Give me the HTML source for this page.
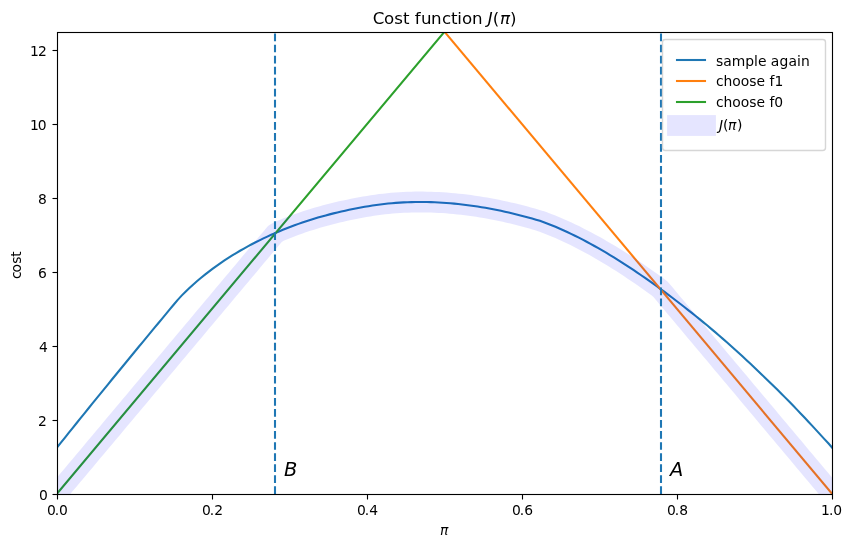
<!DOCTYPE html>
<html lang="en"><head><meta charset="utf-8"><title>Cost function J(π)</title>
<style>html,body{margin:0;padding:0;background:#fff;overflow:hidden}svg{display:block}text{font-family:'DejaVu Sans','Liberation Sans',sans-serif;fill:#000;font-kerning:none;white-space:pre}.t10{font-size:13.889px}.t12{font-size:16.667px}.t14{font-size:19.444px}.it{font-style:italic}</style></head><body>
<svg width="853" height="547" viewBox="0 0 853 547">
<rect x="0" y="0" width="853" height="547" fill="#fff"/>
<defs><clipPath id="ax"><rect x="57" y="32" width="776" height="463"/></clipPath></defs>
<g clip-path="url(#ax)" fill="none" stroke-linejoin="round">
<path d="M57.00 447.52 L60.89 442.65 L64.79 437.79 L68.68 432.93 L72.58 428.09 L76.47 423.25 L80.37 418.42 L84.26 413.60 L88.16 408.78 L92.05 403.97 L95.94 399.17 L99.84 394.38 L103.73 389.59 L107.63 384.81 L111.52 380.03 L115.42 375.26 L119.31 370.50 L123.21 365.74 L127.10 360.99 L130.99 356.24 L134.89 351.50 L138.78 346.76 L142.68 342.04 L146.57 337.33 L150.47 332.64 L154.36 327.94 L158.26 323.26 L162.15 318.57 L166.05 313.89 L169.94 309.20 L173.83 304.51 L177.73 299.84 L181.62 295.63 L185.52 291.73 L189.41 288.03 L193.31 284.47 L197.20 281.08 L201.10 277.82 L204.99 274.68 L208.88 271.64 L212.78 268.70 L216.67 265.86 L220.57 263.13 L224.46 260.48 L228.36 257.92 L232.25 255.46 L236.15 253.07 L240.04 250.77 L243.93 248.54 L247.83 246.38 L251.72 244.29 L255.62 242.27 L259.51 240.31 L263.41 238.41 L267.30 236.57 L271.20 234.80 L275.09 233.09 L278.98 231.43 L282.88 229.82 L286.77 228.26 L290.67 226.75 L294.56 225.30 L298.46 223.89 L302.35 222.53 L306.25 221.23 L310.14 219.97 L314.04 218.76 L317.93 217.60 L321.82 216.48 L325.72 215.40 L329.61 214.37 L333.51 213.37 L337.40 212.42 L341.30 211.52 L345.19 210.66 L349.09 209.84 L352.98 209.05 L356.87 208.28 L360.77 207.55 L364.66 206.84 L368.56 206.17 L372.45 205.54 L376.35 204.96 L380.24 204.44 L384.14 203.99 L388.03 203.58 L391.92 203.22 L395.82 202.90 L399.71 202.63 L403.61 202.41 L407.50 202.23 L411.40 202.10 L415.29 202.02 L419.19 201.99 L423.08 202.00 L426.97 202.06 L430.87 202.16 L434.76 202.31 L438.66 202.49 L442.55 202.72 L446.45 202.98 L450.34 203.29 L454.24 203.63 L458.13 204.02 L462.03 204.45 L465.92 204.91 L469.81 205.41 L473.71 205.96 L477.60 206.55 L481.50 207.17 L485.39 207.83 L489.29 208.53 L493.18 209.26 L497.08 210.03 L500.97 210.84 L504.86 211.68 L508.76 212.56 L512.65 213.48 L516.55 214.43 L520.44 215.41 L524.34 216.42 L528.23 217.47 L532.13 218.55 L536.02 219.66 L539.91 220.85 L543.81 222.20 L547.70 223.65 L551.60 225.19 L555.49 226.80 L559.39 228.47 L563.28 230.20 L567.18 231.99 L571.07 233.83 L574.96 235.73 L578.86 237.69 L582.75 239.69 L586.65 241.73 L590.54 243.83 L594.44 245.97 L598.33 248.16 L602.23 250.41 L606.12 252.69 L610.02 255.03 L613.91 257.41 L617.80 259.84 L621.70 262.31 L625.59 264.82 L629.49 267.37 L633.38 269.96 L637.28 272.60 L641.17 275.26 L645.07 277.96 L648.96 280.70 L652.85 283.46 L656.75 286.27 L660.64 289.10 L664.54 291.96 L668.43 294.85 L672.33 297.78 L676.22 300.74 L680.12 303.73 L684.01 306.76 L687.90 309.82 L691.80 312.91 L695.69 316.03 L699.59 319.18 L703.48 322.36 L707.38 325.57 L711.27 328.83 L715.17 332.13 L719.06 335.47 L722.95 338.84 L726.85 342.26 L730.74 345.73 L734.64 349.24 L738.53 352.77 L742.43 356.34 L746.32 359.94 L750.22 363.57 L754.11 367.23 L758.01 370.92 L761.90 374.64 L765.79 378.39 L769.69 382.17 L773.58 385.98 L777.48 389.83 L781.37 393.70 L785.27 397.62 L789.16 401.59 L793.06 405.59 L796.95 409.63 L800.84 413.70 L804.74 417.81 L808.63 421.96 L812.53 426.16 L816.42 430.39 L820.32 434.67 L824.21 438.84 L828.11 443.02 L832.00 447.52" stroke="#1f77b4" stroke-width="2.083" stroke-linecap="square"/>
<path d="M57.00 -430.28 L832.00 493.72" stroke="#ff7f0e" stroke-width="2.083" stroke-linecap="square"/>
<path d="M57.00 493.72 L832.00 -430.28" stroke="#2ca02c" stroke-width="2.083" stroke-linecap="square"/>
<path d="M57.00 493.72 L60.89 489.08 L64.79 484.43 L68.68 479.79 L72.58 475.15 L76.47 470.50 L80.37 465.86 L84.26 461.22 L88.16 456.57 L92.05 451.93 L95.94 447.29 L99.84 442.64 L103.73 438.00 L107.63 433.36 L111.52 428.71 L115.42 424.07 L119.31 419.43 L123.21 414.79 L127.10 410.14 L130.99 405.50 L134.89 400.86 L138.78 396.21 L142.68 391.57 L146.57 386.93 L150.47 382.28 L154.36 377.64 L158.26 373.00 L162.15 368.35 L166.05 363.71 L169.94 359.07 L173.83 354.42 L177.73 349.78 L181.62 345.14 L185.52 340.49 L189.41 335.85 L193.31 331.21 L197.20 326.56 L201.10 321.92 L204.99 317.28 L208.88 312.63 L212.78 307.99 L216.67 303.35 L220.57 298.70 L224.46 294.06 L228.36 289.42 L232.25 284.78 L236.15 280.13 L240.04 275.49 L243.93 270.85 L247.83 266.20 L251.72 261.56 L255.62 256.92 L259.51 252.27 L263.41 247.63 L267.30 242.99 L271.20 238.34 L275.09 233.70 L278.98 231.43 L282.88 229.82 L286.77 228.26 L290.67 226.75 L294.56 225.30 L298.46 223.89 L302.35 222.53 L306.25 221.23 L310.14 219.97 L314.04 218.76 L317.93 217.60 L321.82 216.48 L325.72 215.40 L329.61 214.37 L333.51 213.37 L337.40 212.42 L341.30 211.52 L345.19 210.66 L349.09 209.84 L352.98 209.05 L356.87 208.28 L360.77 207.55 L364.66 206.84 L368.56 206.17 L372.45 205.54 L376.35 204.96 L380.24 204.44 L384.14 203.99 L388.03 203.58 L391.92 203.22 L395.82 202.90 L399.71 202.63 L403.61 202.41 L407.50 202.23 L411.40 202.10 L415.29 202.02 L419.19 201.99 L423.08 202.00 L426.97 202.06 L430.87 202.16 L434.76 202.31 L438.66 202.49 L442.55 202.72 L446.45 202.98 L450.34 203.29 L454.24 203.63 L458.13 204.02 L462.03 204.45 L465.92 204.91 L469.81 205.41 L473.71 205.96 L477.60 206.55 L481.50 207.17 L485.39 207.83 L489.29 208.53 L493.18 209.26 L497.08 210.03 L500.97 210.84 L504.86 211.68 L508.76 212.56 L512.65 213.48 L516.55 214.43 L520.44 215.41 L524.34 216.42 L528.23 217.47 L532.13 218.55 L536.02 219.66 L539.91 220.85 L543.81 222.20 L547.70 223.65 L551.60 225.19 L555.49 226.80 L559.39 228.47 L563.28 230.20 L567.18 231.99 L571.07 233.83 L574.96 235.73 L578.86 237.69 L582.75 239.69 L586.65 241.73 L590.54 243.83 L594.44 245.97 L598.33 248.16 L602.23 250.41 L606.12 252.69 L610.02 255.03 L613.91 257.41 L617.80 259.84 L621.70 262.31 L625.59 264.82 L629.49 267.37 L633.38 269.96 L637.28 272.60 L641.17 275.26 L645.07 277.96 L648.96 280.70 L652.85 283.46 L656.75 286.27 L660.64 289.42 L664.54 294.06 L668.43 298.70 L672.33 303.35 L676.22 307.99 L680.12 312.63 L684.01 317.28 L687.90 321.92 L691.80 326.56 L695.69 331.21 L699.59 335.85 L703.48 340.49 L707.38 345.14 L711.27 349.78 L715.17 354.42 L719.06 359.07 L722.95 363.71 L726.85 368.35 L730.74 373.00 L734.64 377.64 L738.53 382.28 L742.43 386.93 L746.32 391.57 L750.22 396.21 L754.11 400.86 L758.01 405.50 L761.90 410.14 L765.79 414.79 L769.69 419.43 L773.58 424.07 L777.48 428.71 L781.37 433.36 L785.27 438.00 L789.16 442.64 L793.06 447.29 L796.95 451.93 L800.84 456.57 L804.74 461.22 L808.63 465.86 L812.53 470.50 L816.42 475.15 L820.32 479.79 L824.21 484.43 L828.11 489.08 L832.00 493.72" stroke="#0000ff" stroke-opacity="0.1" stroke-width="20.833" stroke-linecap="square"/>
<path d="M275 494 V20" stroke="#1f77b4" stroke-width="2.083" stroke-dasharray="7.708 3.333"/>
<path d="M661 494 V20" stroke="#1f77b4" stroke-width="2.083" stroke-dasharray="7.708 3.333"/>
</g>
<g stroke="#000" stroke-width="1.111" fill="none">
<path d="M57.5 494.5 V499.5"/>
<path d="M212.5 494.5 V499.5"/>
<path d="M367.5 494.5 V499.5"/>
<path d="M522.5 494.5 V499.5"/>
<path d="M677.5 494.5 V499.5"/>
<path d="M832.5 494.5 V499.5"/>
<path d="M57.5 494.5 H52.5"/>
<path d="M57.5 420.5 H52.5"/>
<path d="M57.5 346.5 H52.5"/>
<path d="M57.5 272.5 H52.5"/>
<path d="M57.5 198.5 H52.5"/>
<path d="M57.5 124.5 H52.5"/>
<path d="M57.5 50.5 H52.5"/>
<path d="M57.5 32.5 H832.5 V494.5 H57.5 Z" stroke-linejoin="miter"/>
</g>
<g fill="#000" fill-opacity="0.055">
<rect x="57.0" y="31.0" width="776.0" height="1"/>
<rect x="57.0" y="33.0" width="776.0" height="1"/>
<rect x="57.0" y="493.0" width="776.0" height="1"/>
<rect x="57.0" y="495.0" width="776.0" height="1"/>
</g>
<path d="M665.28 150.50 H822.72 Q825.50 150.50 825.50 147.72 V42.28 Q825.50 39.50 822.72 39.50 H665.28 Q662.50 39.50 662.50 42.28 V147.72 Q662.50 150.50 665.28 150.50 Z" fill="#fff" stroke="#ccc" stroke-width="1.389" opacity="0.8"/>
<path d="M677 60 H705" stroke="#1f77b4" stroke-width="2.083" stroke-linecap="square" fill="none"/>
<path d="M677 81 H705" stroke="#ff7f0e" stroke-width="2.083" stroke-linecap="square" fill="none"/>
<path d="M677 102 H705" stroke="#2ca02c" stroke-width="2.083" stroke-linecap="square" fill="none"/>
<rect x="667.08" y="115.08" width="48.84" height="20.84" fill="#0000ff" fill-opacity="0.1"/>
<text class="t10" y="515.05"><tspan x="47.01 54.84 59.01">0.0</tspan></text>
<text class="t10" y="515.05"><tspan x="202.01 209.84 214.13">0.2</tspan></text>
<text class="t10" y="515.05"><tspan x="357.01 364.84 369.13">0.4</tspan></text>
<text class="t10" y="515.05"><tspan x="512.01 519.84 524.13">0.6</tspan></text>
<text class="t10" y="515.05"><tspan x="667.01 674.84 679.26">0.8</tspan></text>
<text class="t10" y="515.05"><tspan x="821.01 828.97 833.26">1.0</tspan></text>
<text class="t10" y="499.61"><tspan x="38.97">0</tspan></text>
<text class="t10" y="425.69"><tspan x="38.09">2</tspan></text>
<text class="t10" y="351.77"><tspan x="39.09">4</tspan></text>
<text class="t10" y="277.85"><tspan x="38.09">6</tspan></text>
<text class="t10" y="203.93"><tspan x="38.09">8</tspan></text>
<text class="t10" y="130.01"><tspan x="30.00 37.84">10</tspan></text>
<text class="t10" y="56.09"><tspan x="30.00 37.97">12</tspan></text>
<text class="t10" y="0.00" transform="translate(21.06 265.43) rotate(-90)"><tspan x="-13.66 -7.02 1.60 8.71">cost</tspan></text>
<text class="t10" y="534.61"><tspan class="it" x="440.03">π</tspan></text>
<text class="t14" y="475.85"><tspan class="it" x="284.12">B</tspan></text>
<text class="t14" y="475.85"><tspan class="it" x="670.04">A</tspan></text>
<text class="t12" y="24.00"><tspan x="372.81 384.08 394.27 402.96 409.49 414.79 420.91 430.97 441.91 450.95 457.23 462.11 472.06 482.87">Cost function </tspan><tspan class="it" x="487.67">J</tspan><tspan x="492.71">(</tspan><tspan class="it" x="499.96">π</tspan><tspan x="510.02">)</tspan></text>
<text class="t10" y="66.00"><tspan x="716.05 723.29 731.80 745.33 754.02 758.00 766.55 770.84 779.47 788.41 797.05 800.91">sample again</tspan></text>
<text class="t10" y="86.00"><tspan x="716.05 723.56 732.36 740.86 749.36 756.47 765.26 769.43 774.44">choose f1</tspan></text>
<text class="t10" y="107.00"><tspan x="716.05 723.56 732.36 740.86 749.36 756.47 765.26 769.43 774.32">choose f0</tspan></text>
<text class="t10" y="130.39"><tspan class="it" x="719.05">J</tspan><tspan x="723.02">(</tspan><tspan class="it" x="728.06">π</tspan><tspan x="736.93">)</tspan></text>
</svg></body></html>
